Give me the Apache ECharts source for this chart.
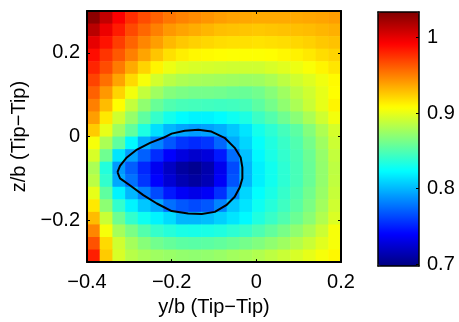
<!DOCTYPE html>
<html>
<head>
<meta charset="utf-8">
<script src="https://cdn.jsdelivr.net/npm/echarts@6/dist/echarts.min.js"></script>
<style>
html, body { margin: 0; padding: 0; background: #fff; }
#chart { width: 459px; height: 322px; }
</style>
</head>
<body>
<div id="chart"></div>
<script>
const FONT = 'Liberation Sans, Arial, Helvetica, sans-serif';

// cell centres of the sampled field
const xCenters = [-0.385, -0.355, -0.325, -0.295, -0.265, -0.235, -0.205, -0.175, -0.145, -0.115,
                  -0.085, -0.055, -0.025, 0.005, 0.035, 0.065, 0.095, 0.125, 0.155, 0.185];
const yCenters = [0.285, 0.255, 0.225, 0.195, 0.165, 0.135, 0.105, 0.075, 0.045, 0.015,
                  -0.015, -0.045, -0.075, -0.105, -0.135, -0.165, -0.195, -0.225, -0.255, -0.285];
// field values, one row per yCenters entry (top to bottom)
const zRows = [
  [1.030, 1.012, 0.993, 0.977, 0.967, 0.960, 0.953, 0.949, 0.946, 0.943, 0.940, 0.938, 0.937, 0.936, 0.936, 0.936, 0.936, 0.937, 0.938, 0.940],
  [1.015, 0.998, 0.983, 0.968, 0.958, 0.950, 0.942, 0.938, 0.935, 0.932, 0.929, 0.928, 0.927, 0.926, 0.927, 0.928, 0.929, 0.930, 0.932, 0.934],
  [1.000, 0.986, 0.972, 0.959, 0.948, 0.940, 0.931, 0.926, 0.923, 0.921, 0.919, 0.918, 0.918, 0.917, 0.918, 0.919, 0.921, 0.923, 0.926, 0.928],
  [0.988, 0.975, 0.963, 0.950, 0.938, 0.927, 0.918, 0.913, 0.910, 0.909, 0.908, 0.907, 0.907, 0.907, 0.908, 0.910, 0.912, 0.915, 0.919, 0.922],
  [0.980, 0.967, 0.952, 0.936, 0.922, 0.911, 0.902, 0.897, 0.895, 0.894, 0.893, 0.892, 0.892, 0.892, 0.895, 0.898, 0.902, 0.906, 0.911, 0.916],
  [0.970, 0.955, 0.938, 0.920, 0.905, 0.893, 0.885, 0.881, 0.879, 0.878, 0.877, 0.876, 0.875, 0.876, 0.880, 0.886, 0.892, 0.897, 0.903, 0.909],
  [0.960, 0.942, 0.922, 0.904, 0.888, 0.876, 0.867, 0.864, 0.862, 0.862, 0.861, 0.859, 0.858, 0.861, 0.868, 0.876, 0.885, 0.892, 0.900, 0.908],
  [0.950, 0.930, 0.908, 0.888, 0.871, 0.858, 0.850, 0.847, 0.846, 0.845, 0.844, 0.845, 0.847, 0.854, 0.862, 0.871, 0.880, 0.890, 0.900, 0.911],
  [0.940, 0.915, 0.892, 0.873, 0.855, 0.841, 0.830, 0.823, 0.820, 0.820, 0.823, 0.828, 0.833, 0.843, 0.851, 0.860, 0.869, 0.880, 0.892, 0.904],
  [0.925, 0.900, 0.876, 0.856, 0.833, 0.813, 0.800, 0.794, 0.791, 0.793, 0.797, 0.805, 0.815, 0.830, 0.838, 0.846, 0.854, 0.867, 0.881, 0.894],
  [0.905, 0.880, 0.855, 0.822, 0.797, 0.783, 0.768, 0.757, 0.753, 0.757, 0.773, 0.796, 0.810, 0.825, 0.834, 0.842, 0.850, 0.862, 0.876, 0.891],
  [0.895, 0.860, 0.815, 0.792, 0.771, 0.754, 0.739, 0.729, 0.723, 0.728, 0.747, 0.775, 0.803, 0.822, 0.832, 0.840, 0.848, 0.859, 0.873, 0.888],
  [0.880, 0.835, 0.790, 0.770, 0.752, 0.735, 0.720, 0.708, 0.703, 0.712, 0.734, 0.764, 0.800, 0.819, 0.829, 0.838, 0.847, 0.858, 0.872, 0.886],
  [0.885, 0.840, 0.795, 0.777, 0.757, 0.740, 0.725, 0.714, 0.708, 0.715, 0.737, 0.767, 0.800, 0.819, 0.829, 0.838, 0.847, 0.858, 0.872, 0.887],
  [0.900, 0.855, 0.820, 0.800, 0.782, 0.764, 0.747, 0.737, 0.732, 0.737, 0.755, 0.782, 0.810, 0.824, 0.832, 0.841, 0.850, 0.861, 0.874, 0.889],
  [0.915, 0.870, 0.840, 0.820, 0.805, 0.795, 0.776, 0.768, 0.764, 0.768, 0.783, 0.805, 0.815, 0.828, 0.836, 0.844, 0.853, 0.864, 0.877, 0.892],
  [0.930, 0.890, 0.860, 0.840, 0.828, 0.820, 0.812, 0.800, 0.800, 0.802, 0.808, 0.815, 0.822, 0.834, 0.842, 0.850, 0.859, 0.869, 0.882, 0.896],
  [0.948, 0.905, 0.878, 0.864, 0.851, 0.841, 0.836, 0.832, 0.831, 0.832, 0.834, 0.838, 0.842, 0.849, 0.856, 0.863, 0.871, 0.880, 0.891, 0.905],
  [0.965, 0.920, 0.892, 0.878, 0.868, 0.861, 0.857, 0.854, 0.853, 0.854, 0.856, 0.859, 0.862, 0.866, 0.871, 0.876, 0.883, 0.890, 0.898, 0.905],
  [0.982, 0.925, 0.895, 0.884, 0.879, 0.876, 0.874, 0.872, 0.871, 0.872, 0.874, 0.877, 0.879, 0.882, 0.886, 0.890, 0.895, 0.900, 0.905, 0.910]
];

// black contour line around the low region
const contourX = [-0.328, -0.322, -0.306, -0.282, -0.251, -0.220, -0.200, -0.169, -0.137, -0.106, -0.075, -0.051,
                  -0.037, -0.033, -0.033, -0.039, -0.051, -0.071, -0.098, -0.129, -0.161, -0.200, -0.235, -0.267,
                  -0.298, -0.322, -0.328];
const contourY = [-0.085, -0.070, -0.050, -0.031, -0.015, -0.003, 0.007, 0.014, 0.016, 0.012, -0.003, -0.027,
                  -0.050, -0.074, -0.100, -0.121, -0.144, -0.164, -0.180, -0.185, -0.184, -0.178, -0.160, -0.140,
                  -0.117, -0.100, -0.085];

const yTicks = [-0.2, 0, 0.2];
const cbarTicks = [0.7, 0.8, 0.9, 1];
const cbarMin = 0.6975, cbarMax = 1.034;
const jet = ['#000080', '#0000ff', '#0080ff', '#00ffff', '#80ff80', '#ffff00', '#ff8000', '#ff0000', '#800000'];

const cells = [];
yCenters.forEach((y, i) => xCenters.forEach((x, j) => cells.push([x, y, zRows[i][j]])));
const contour = contourX.map((x, i) => [x, contourY[i]]);
const half = (xCenters[1] - xCenters[0]) / 2;

const fmt = v => String(+(+v).toFixed(2)).replace('-', '\u2212');
const black = { color: '#000' };
const txt = { color: '#000', fontSize: 20, fontFamily: FONT };

const frameAxis = (grid, pos, extra) => Object.assign({
  gridIndex: grid, type: 'value', position: pos, z: 6,
  axisLine: { show: true, onZero: false, lineStyle: { color: '#000', width: 2 } },
  axisTick: { show: false },
  axisLabel: { show: false },
  splitLine: { show: false }
}, extra);
const thinLine = { show: true, onZero: false, lineStyle: { color: '#000', width: 1.5 } };

const chart = echarts.init(document.getElementById('chart'), null, { renderer: 'canvas' });
chart.setOption({
  animation: false,
  backgroundColor: '#fff',
  grid: [
    { left: 87, top: 11, width: 254, height: 255 },
    { left: 378, top: 12, width: 41, height: 254 }
  ],
  xAxis: [
    frameAxis(0, 'bottom', {
      min: -0.4, max: 0.2, interval: 0.2,
      name: 'y/b (Tip\u2212Tip)', nameLocation: 'middle', nameGap: 33, nameTextStyle: txt,
      axisTick: { show: true, inside: true, length: 3, lineStyle: black },
      axisLabel: Object.assign({ show: true, margin: 10, formatter: fmt }, txt)
    }),
    frameAxis(0, 'top', {
      min: -0.4, max: 0.2, interval: 0.2,
      axisTick: { show: true, inside: true, length: 3, lineStyle: black }
    }),
    frameAxis(1, 'bottom', { min: 0, max: 1, axisLine: thinLine }),
    frameAxis(1, 'top', { min: 0, max: 1, axisLine: thinLine })
  ],
  yAxis: [
    frameAxis(0, 'left', {
      min: -0.3, max: 0.3,
      name: 'z/b (Tip\u2212Tip)', nameLocation: 'middle', nameGap: 50, nameTextStyle: txt,
      axisTick: { show: true, inside: true, length: 3, lineStyle: black, customValues: yTicks },
      axisLabel: Object.assign({ show: true, margin: 7, formatter: fmt, customValues: yTicks }, txt)
    }),
    frameAxis(0, 'right', {
      min: -0.3, max: 0.3,
      axisTick: { show: true, inside: true, length: 3, lineStyle: black, customValues: yTicks }
    }),
    frameAxis(1, 'left', { min: cbarMin, max: cbarMax, axisLine: thinLine }),
    frameAxis(1, 'right', {
      min: cbarMin, max: cbarMax,
      axisLine: thinLine,
      axisTick: { show: true, inside: true, length: 3, lineStyle: black, customValues: cbarTicks },
      axisLabel: Object.assign({ show: true, margin: 8, formatter: fmt, customValues: cbarTicks }, txt)
    })
  ],
  visualMap: {
    type: 'continuous',
    min: cbarMin, max: cbarMax,
    dimension: 2,
    seriesIndex: 0,
    calculable: false,
    orient: 'vertical',
    left: 378, top: 12,
    itemWidth: 41, itemHeight: 254,
    padding: 0,
    text: null,
    hoverLink: false,
    inRange: { color: jet }
  },
  series: [
    {
      type: 'custom',
      xAxisIndex: 0, yAxisIndex: 0,
      data: cells,
      encode: { x: 0, y: 1 },
      renderItem(params, api) {
        const x = api.value(0), y = api.value(1);
        const p0 = api.coord([x - half, y + half]);
        const p1 = api.coord([x + half, y - half]);
        return {
          type: 'rect',
          shape: { x: p0[0], y: p0[1], width: p1[0] - p0[0] + 0.6, height: p1[1] - p0[1] + 0.6 },
          style: { fill: api.visual('color') }
        };
      }
    },
    {
      type: 'line',
      xAxisIndex: 0, yAxisIndex: 0,
      data: contour,
      showSymbol: false,
      symbol: 'none',
      z: 4,
      lineStyle: { color: '#000', width: 2 }
    }
  ]
});
</script>
</body>
</html>
